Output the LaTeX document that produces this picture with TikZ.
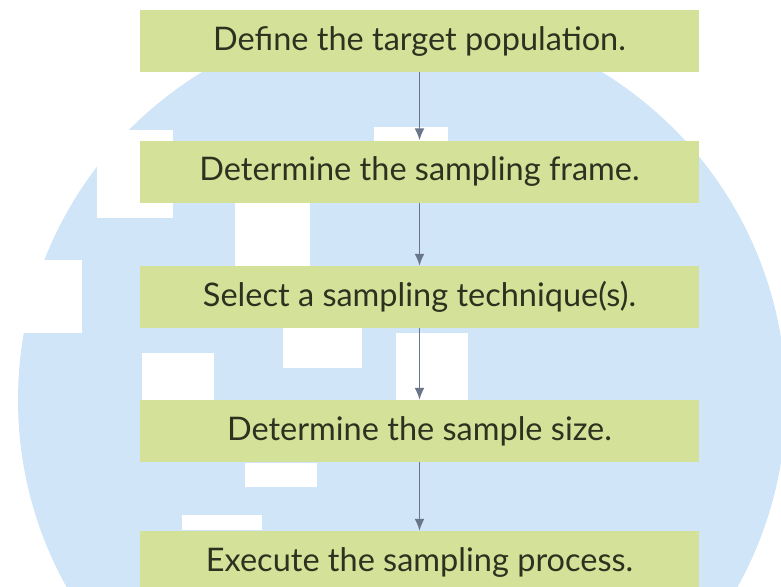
\documentclass[tikz,border=0pt]{standalone}
\usepackage{xcolor}
\usepackage{fontspec}
\setmainfont{Lato}
\usepackage{tikz}
\usetikzlibrary{arrows.meta}
\usetikzlibrary{positioning}

\definecolor{bgblue}{RGB}{208,229,248}
\definecolor{boxgreen}{RGB}{212,226,153}
\definecolor{txtdark}{RGB}{45,50,32}
\definecolor{arrgray}{RGB}{105,118,138}

\tikzset{
  stepbox/.style={fill=boxgreen, minimum width=559pt, minimum height=62pt,
    inner sep=0pt, text=txtdark, font=\fontsize{32.5}{36}\selectfont},
  flow/.style={draw=arrgray, line width=1.8pt, arrows = {-Latex[width=10pt, length=12pt]}},
  gap/.style={fill=white}
}

\begin{document}
\begin{tikzpicture}[x=1pt,y=-1pt]
\useasboundingbox (0,0) rectangle (781,586);
\fill[bgblue] (402,400) circle (384pt);
\fill[gap] (374,127) rectangle (448,141);
\fill[gap] (97,130) rectangle (173,218);
\fill[gap] (0,260) rectangle (82,333);
\fill[gap] (235,203) rectangle (310,267);
\fill[gap] (283,328) rectangle (362,368);
\fill[gap] (396,333) rectangle (468,400);
\fill[gap] (142,353) rectangle (214,400);
\fill[gap] (245,463) rectangle (317,487);
\fill[gap] (182,515) rectangle (262,530);
\node[stepbox] (target) at (419.5,41) {Define the target population.};
\node[stepbox] (frame) at (419.5,171.5) {Determine the sampling frame.};
\node[stepbox] (technique) at (419.5,297) {Select a sampling technique(s).};
\node[stepbox] (size) at (419.5,431) {Determine the sample size.};
\node[stepbox] (execute) at (419.5,562) {Execute the sampling process.};
\draw[flow] (target) -- (frame);
\draw[flow] (frame) -- (technique);
\draw[flow] (technique) -- (size);
\draw[flow] (size) -- (execute);
\end{tikzpicture}
\end{document}
